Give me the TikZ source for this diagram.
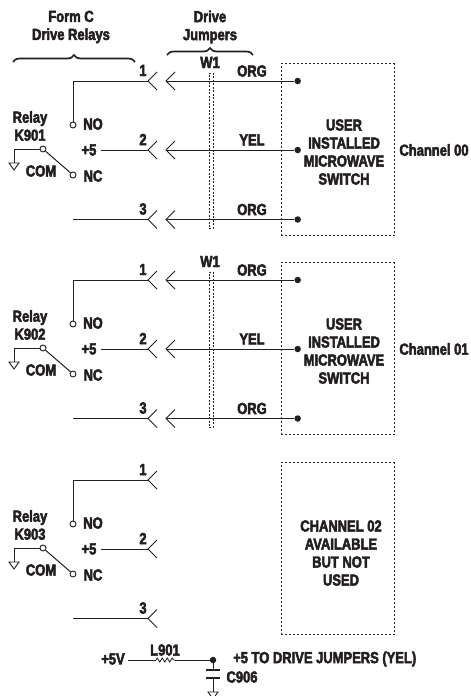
\documentclass[tikz,border=0pt]{standalone}
\usepackage{fontspec}
\setmainfont[FakeStretch=0.81,FakeBold=3]{Liberation Sans Bold}
\usetikzlibrary{decorations.pathreplacing,decorations.pathmorphing}
\definecolor{ink}{HTML}{231F20}
\tikzset{
	wire/.style={draw=ink,line width=1pt},
	lbl/.style={inner sep=0pt,text=ink,font=\fontsize{16}{18}\selectfont,align=center},
	term/.style={circle,draw=ink,fill=white,line width=0.9pt,inner sep=0pt,minimum size=6pt},
	dot/.style={circle,fill=ink,inner sep=0pt,minimum size=6.5pt},
	userbox/.style={lbl,draw=ink,dash pattern=on 2pt off 2pt,line width=1pt,minimum width=113pt,minimum height=172pt},
	jumper/.style={draw=ink,dash pattern=on 2pt off 1.5pt,line width=0.8pt,minimum width=4pt,minimum height=155pt,inner sep=0pt},
	bracket/.style={wire,line width=1.7pt,decorate,decoration={brace,amplitude=7pt}},
	gnd/.style={draw=ink,line width=0.9pt}
}
\begin{document}
\begin{tikzpicture}[x=1pt,y=-1pt]
	\useasboundingbox (0,0) rectangle (471,696);
	\clip (0,0) rectangle (471,696);
	% headings
	\node[lbl] (formc) at (71,27) {Form C\\Drive Relays};
	\node[lbl] (drivej) at (210,27) {Drive\\Jumpers};
	\coordinate (fa) at (13,62);
	\coordinate (fb) at (135,62);
	\coordinate (ja) at (167,55);
	\coordinate (jb) at (253,55);
	\draw[bracket] (fa) -- (fb);
	\draw[bracket] (ja) -- (jb);
	% relays
	\foreach \dy/\kname in {0/K901,199/K902,399/K903} {
		\begin{scope}[shift={(0,\dy)}]
			\node[lbl] (relay) at (30,126) {Relay\\\kname};
			\node[term] (no) at (73,125) {};
			\node[term] (nc) at (73,175) {};
			\node[term] (com) at (43,149) {};
			\node[lbl] at (93,124) {NO};
			\node[lbl] at (93,176) {NC};
			\node[lbl] at (41,171) {COM};
			\node[lbl] (plus) at (89,150) {+5};
			\coordinate (c1) at (148,81);
			\coordinate (c2) at (148,150);
			\coordinate (c3) at (148,219.5);
			\coordinate (c3s) at (73,219.5);
			\draw[wire] (no) |- (c1);
			\draw[wire] (101,150) -- (c2);
			\draw[wire] (c3s) -- (c3);
			\draw[wire] (com) -- (nc);
			\coordinate (g) at (14,163);
			\draw[wire,line width=0.9pt] (com) -| (g);
			\draw[gnd] (9,163) -- (19,163) -- (14,170) -- cycle;
			\foreach \n/\yy in {1/81,2/150,3/219.5} {
				\draw[wire] (157,\yy-9) -- (c\n) -- (157,\yy+9);
				\node[lbl] at (143,\yy-10.5) {\n};
			}
		\end{scope}
	}
	% jumpers and switches
	\foreach \dy/\chan in {0/00,199/01} {
		\begin{scope}[shift={(0,\dy)}]
			\node[userbox] (sw) at (337.5,149.5) {};
			\node[lbl] at (344,152) {USER\\INSTALLED\\MICROWAVE\\SWITCH};
			\node[jumper] (w) at (211,150.5) {};
			\node[lbl] at (210,62.5) {W1};
			\node[lbl] (chname) at (434,150) {Channel \chan};
			\foreach \n/\yy/\col in {1/81/ORG,2/150/YEL,3/219.5/ORG} {
				\node[dot] (d\n) at (297.7,\yy) {};
				\coordinate (t\n) at (166,\yy);
				\draw[wire] (d\n) -- (t\n);
				\draw[wire] (175,\yy-9) -- (t\n) -- (175,\yy+9);
				\node[lbl] at (252,\yy-10) {\col};
			}
		\end{scope}
	}
	\node[userbox] (free) at (337.5,548.5) {};
	\node[lbl] at (341,553) {CHANNEL 02\\AVAILABLE\\BUT NOT\\USED};
	% supply filter
	\node[lbl] (vin) at (113,659) {+5V};
	\node[dot] (vdot) at (213,660) {};
	\node[lbl] (l901) at (165,650) {L901};
	\node[lbl,anchor=west] (yel) at (233,659) {+5 TO DRIVE JUMPERS (YEL)};
	\node[lbl] (c906) at (242,677) {C906};
	\coordinate (la) at (156,660);
	\coordinate (lb) at (175,660);
	\draw[wire] (128,660) -- (la);
	\draw[wire,line width=0.8pt,decorate,decoration={zigzag,segment length=5pt,amplitude=2pt}] (la) -- (lb);
	\draw[wire] (lb) -- (vdot);
	\coordinate (pa) at (213,670);
	\coordinate (pb) at (213,678);
	\draw[wire] (vdot) -- (pa);
	\draw[wire,line width=1.2pt] (206,670) -- (220,670);
	\draw[wire,line width=1.2pt] (206,678) -- (220,678);
	\draw[wire] (pb) -- (213,692);
	\draw[gnd] (208,692) -- (218,692) -- (213,699) -- cycle;
\end{tikzpicture}
\end{document}
